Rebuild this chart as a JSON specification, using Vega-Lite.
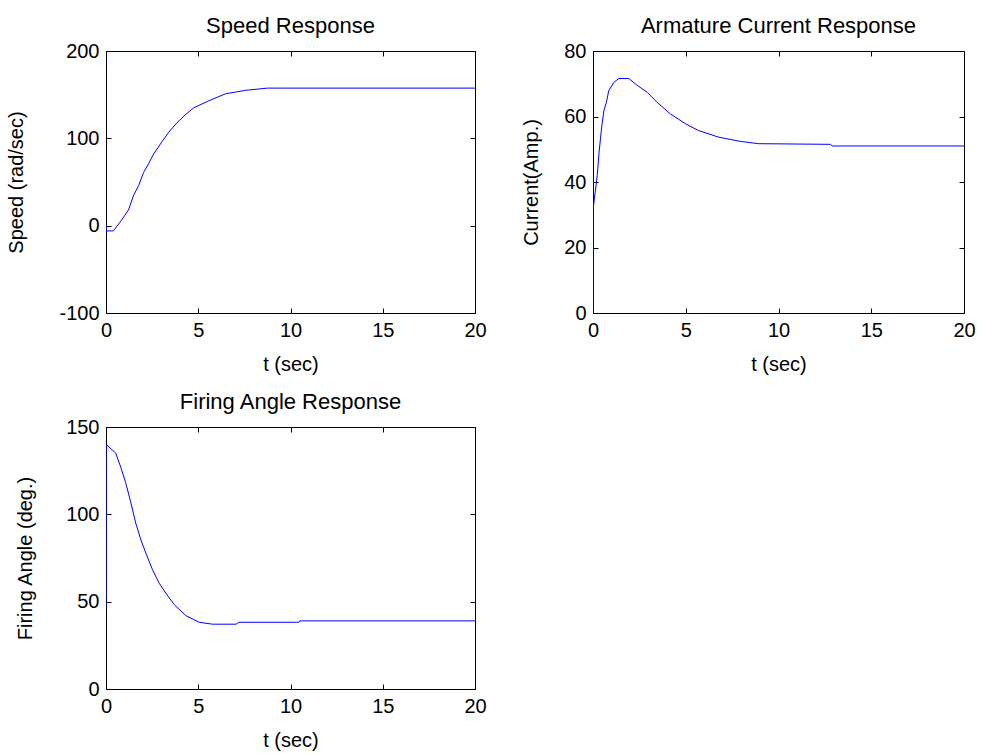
{
  "$schema": "https://vega.github.io/schema/vega-lite/v6.json",
  "background": "white",
  "padding": {"left": 6, "top": 14, "right": 2, "bottom": 2},
  "datasets": {
    "speed": [
      {"t": 0, "v": 0}, {"t": 0.03, "v": -6}, {"t": 0.4, "v": -6}, {"t": 0.83, "v": 6},
      {"t": 1.22, "v": 18}, {"t": 1.5, "v": 35}, {"t": 1.77, "v": 46}, {"t": 2.04, "v": 61},
      {"t": 2.31, "v": 71}, {"t": 2.58, "v": 82}, {"t": 3.03, "v": 96}, {"t": 3.4, "v": 107},
      {"t": 3.85, "v": 118}, {"t": 4.3, "v": 127}, {"t": 4.76, "v": 135}, {"t": 5.57, "v": 143},
      {"t": 6.48, "v": 151}, {"t": 7.57, "v": 155}, {"t": 8.75, "v": 157.5}, {"t": 20, "v": 157.5}
    ],
    "current": [
      {"t": 0, "v": 0}, {"t": 0.01, "v": 32}, {"t": 0.23, "v": 42}, {"t": 0.32, "v": 48.6},
      {"t": 0.41, "v": 53.7}, {"t": 0.5, "v": 58.3}, {"t": 0.59, "v": 61.8}, {"t": 0.72, "v": 64.3},
      {"t": 0.85, "v": 67.9}, {"t": 1.12, "v": 70.4}, {"t": 1.39, "v": 71.6}, {"t": 1.93, "v": 71.6},
      {"t": 2.29, "v": 69.9}, {"t": 2.92, "v": 67.4}, {"t": 3.46, "v": 64.3}, {"t": 4.17, "v": 60.8},
      {"t": 4.98, "v": 57.8}, {"t": 5.69, "v": 55.7}, {"t": 6.77, "v": 53.7}, {"t": 7.94, "v": 52.4},
      {"t": 8.92, "v": 51.7}, {"t": 12.8, "v": 51.5}, {"t": 12.9, "v": 51}, {"t": 20, "v": 51}
    ],
    "firing": [
      {"t": 0, "v": 46}, {"t": 0.01, "v": 140}, {"t": 0.53, "v": 135}, {"t": 0.8, "v": 127},
      {"t": 1.07, "v": 118}, {"t": 1.34, "v": 107}, {"t": 1.61, "v": 95}, {"t": 1.89, "v": 85.4},
      {"t": 2.16, "v": 77.8}, {"t": 2.52, "v": 68.3}, {"t": 2.88, "v": 60.6}, {"t": 3.24, "v": 54.9},
      {"t": 3.7, "v": 48.3}, {"t": 4.33, "v": 42}, {"t": 5.05, "v": 38.2}, {"t": 5.78, "v": 37.1},
      {"t": 7.05, "v": 37.1}, {"t": 7.2, "v": 38.2}, {"t": 10.46, "v": 38.2}, {"t": 10.5, "v": 39},
      {"t": 20, "v": 39}
    ]
  },
  "vconcat": [
    {
      "hconcat": [
        {
          "width": 369, "height": 262,
          "title": {"text": "Speed Response"},
          "layer": [
            {
              "data": {"name": "speed"},
              "mark": {"type": "line", "color": "#0000ff", "strokeWidth": 1, "clip": true},
              "encoding": {
                "x": {"field": "t", "type": "quantitative", "scale": {"domain": [0, 20], "nice": false, "zero": false}, "axis": {"orient": "bottom", "title": "t (sec)", "values": [0, 5, 10, 15, 20]}},
                "y": {"field": "v", "type": "quantitative", "scale": {"domain": [-100, 200], "nice": false, "zero": false}, "axis": {"orient": "left", "title": "Speed (rad/sec)", "titlePadding": 32, "values": [-100, 0, 100, 200]}}
              }
            },
            {
              "data": {"name": "speed"},
              "mark": {"type": "line", "opacity": 0},
              "encoding": {
                "x": {"field": "t", "type": "quantitative", "scale": {"domain": [0, 20], "nice": false, "zero": false}, "axis": {"orient": "top", "title": null, "labels": false, "values": [0, 5, 10, 15, 20]}},
                "y": {"field": "v", "type": "quantitative", "scale": {"domain": [-100, 200], "nice": false, "zero": false}, "axis": {"orient": "right", "title": null, "labels": false, "values": [-100, 0, 100, 200]}}
              }
            }
          ],
          "resolve": {"scale": {"x": "independent", "y": "independent"}}
        },
        {
          "width": 371, "height": 262,
          "title": {"text": "Armature Current Response"},
          "layer": [
            {
              "data": {"name": "current"},
              "mark": {"type": "line", "color": "#0000ff", "strokeWidth": 1, "clip": true},
              "encoding": {
                "x": {"field": "t", "type": "quantitative", "scale": {"domain": [0, 20], "nice": false, "zero": false}, "axis": {"orient": "bottom", "title": "t (sec)", "values": [0, 5, 10, 15, 20]}},
                "y": {"field": "v", "type": "quantitative", "scale": {"domain": [0, 80], "nice": false, "zero": false}, "axis": {"orient": "left", "title": "Current(Amp.)", "titlePadding": 22, "values": [0, 20, 40, 60, 80]}}
              }
            },
            {
              "data": {"name": "current"},
              "mark": {"type": "line", "opacity": 0},
              "encoding": {
                "x": {"field": "t", "type": "quantitative", "scale": {"domain": [0, 20], "nice": false, "zero": false}, "axis": {"orient": "top", "title": null, "labels": false, "values": [0, 5, 10, 15, 20]}},
                "y": {"field": "v", "type": "quantitative", "scale": {"domain": [0, 80], "nice": false, "zero": false}, "axis": {"orient": "right", "title": null, "labels": false, "values": [0, 20, 40, 60, 80]}}
              }
            }
          ],
          "resolve": {"scale": {"x": "independent", "y": "independent"}}
        }
      ]
    },
    {
      "hconcat": [
        {
          "width": 369, "height": 262,
          "title": {"text": "Firing Angle Response"},
          "layer": [
            {
              "data": {"name": "firing"},
              "mark": {"type": "line", "color": "#0000ff", "strokeWidth": 1, "clip": true},
              "encoding": {
                "x": {"field": "t", "type": "quantitative", "scale": {"domain": [0, 20], "nice": false, "zero": false}, "axis": {"orient": "bottom", "title": "t (sec)", "values": [0, 5, 10, 15, 20]}},
                "y": {"field": "v", "type": "quantitative", "scale": {"domain": [0, 150], "nice": false, "zero": false}, "axis": {"orient": "left", "title": "Firing Angle (deg.)", "titlePadding": 30, "values": [0, 50, 100, 150]}}
              }
            },
            {
              "data": {"name": "firing"},
              "mark": {"type": "line", "opacity": 0},
              "encoding": {
                "x": {"field": "t", "type": "quantitative", "scale": {"domain": [0, 20], "nice": false, "zero": false}, "axis": {"orient": "top", "title": null, "labels": false, "values": [0, 5, 10, 15, 20]}},
                "y": {"field": "v", "type": "quantitative", "scale": {"domain": [0, 150], "nice": false, "zero": false}, "axis": {"orient": "right", "title": null, "labels": false, "values": [0, 50, 100, 150]}}
              }
            }
          ],
          "resolve": {"scale": {"x": "independent", "y": "independent"}}
        }
      ]
    }
  ],
  "spacing": 15,
  "config": {
    "font": "Liberation Sans",
    "concat": {"spacing": 34},
    "view": {"stroke": "black", "strokeWidth": 1},
    "title": {"font": "Liberation Sans", "fontSize": 22, "fontWeight": "normal", "color": "black", "offset": 3},
    "axis": {
      "domain": false,
      "grid": false,
      "ticks": true,
      "tickSize": -5,
      "tickColor": "black",
      "tickWidth": 1,
      "labelPadding": 12,
      "labelExpr": "datum.value + ''",
      "labelFont": "Liberation Sans",
      "labelFontSize": 20,
      "labelColor": "black",
      "labelFlush": false,
      "labelOverlap": false,
      "titleFont": "Liberation Sans",
      "titleFontSize": 20,
      "titleFontWeight": "normal",
      "titleColor": "black",
      "titlePadding": 14
    }
  }
}
